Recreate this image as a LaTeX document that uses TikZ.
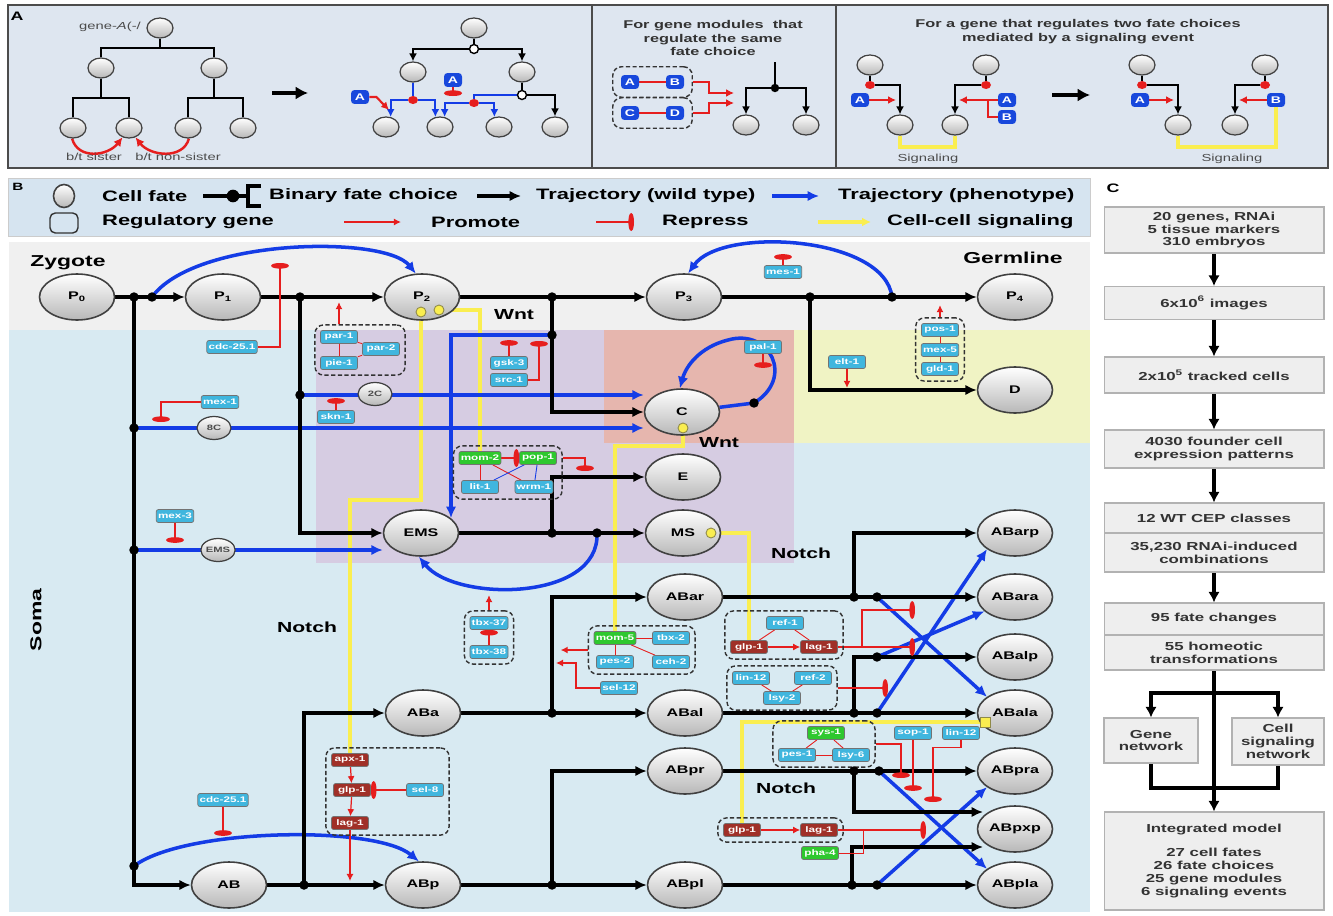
\documentclass[tikz,border=0pt]{standalone}
\usepackage{fontspec}
\setmainfont{Liberation Sans}[FakeStretch=1.45]
\usepackage{xcolor}
\usepackage{tikz}
\usetikzlibrary{arrows.meta, positioning, shapes.geometric, calc, backgrounds, fit}

\definecolor{panelbg}{RGB}{222,230,240}
\definecolor{legendbg}{RGB}{214,228,240}
\definecolor{germbg}{RGB}{240,240,240}
\definecolor{somabg}{RGB}{216,234,242}
\definecolor{purplebg}{RGB}{214,204,226}
\definecolor{salmonbg}{RGB}{230,182,174}
\definecolor{yellowbg}{RGB}{240,243,196}
\definecolor{genecyan}{RGB}{64,182,222}
\definecolor{genegreen}{RGB}{46,200,46}
\definecolor{genebrown}{RGB}{160,48,40}
\definecolor{geneblue}{RGB}{24,72,220}
\definecolor{trajblue}{RGB}{20,60,230}
\definecolor{sigyellow}{RGB}{250,238,80}
\definecolor{promred}{RGB}{230,30,30}
\definecolor{boxgray}{RGB}{238,238,238}

\pgfdeclarelayer{background}
\pgfdeclarelayer{wires}
\pgfsetlayers{background,wires,main}

\begin{document}
\begin{tikzpicture}[
    x=0.02cm, y=-0.02cm,
    every node/.style={font=\bfseries},
    % --- Styles ---
    cell/.style={ellipse, draw=black!75, line width=0.9pt, top color=white, bottom color=black!28,
        minimum width=1.5cm, minimum height=0.92cm, inner sep=0pt, font=\bfseries\fontsize{6.3}{7}\selectfont},
    minicell/.style={cell, minimum width=0.68cm, minimum height=0.46cm, line width=0.7pt,
        text=black!70, font=\bfseries\fontsize{4.4}{5}\selectfont},
    tinycell/.style={cell, minimum width=0.52cm, minimum height=0.4cm, line width=0.7pt},
    gene/.style={rectangle, rounded corners=1.2pt, draw=black!55, line width=0.4pt, fill=genecyan,
        text=white, minimum width=0.74cm, minimum height=0.26cm, inner sep=1pt,
        font=\bfseries\fontsize{4.6}{4.8}\selectfont},
    gene green/.style={gene, fill=genegreen},
    gene brown/.style={gene, fill=genebrown},
    letter gene/.style={rectangle, rounded corners=2pt, fill=geneblue, text=white, minimum width=0.36cm,
        minimum height=0.28cm, inner sep=0pt, font=\bfseries\fontsize{5.5}{6}\selectfont},
    module/.style={draw=black!80, dash pattern=on 2.4pt off 1.4pt, line width=0.8pt, rounded corners=5pt, inner sep=3pt},
    wt/.style={line width=2pt, -{Latex[length=6.5pt,width=6pt]}},
    wtline/.style={line width=2pt},
    phen/.style={trajblue, line width=2pt, -{Latex[length=6.5pt,width=6pt]}},
    phenline/.style={trajblue, line width=2pt},
    prom/.style={promred, line width=0.7pt, -{Latex[length=4pt,width=4pt]}},
    rep/.style={promred, line width=0.7pt, -{Ellipse[length=3.2pt,width=10pt]}},
    link/.style={promred, line width=0.5pt},
    linkblue/.style={trajblue, line width=0.5pt},
    signal/.style={sigyellow, line width=2pt},
    sigdot/.style={circle, fill=sigyellow, draw=black!50!yellow, line width=0.5pt, minimum size=0.2cm, inner sep=0pt},
    sigsquare/.style={rectangle, fill=sigyellow, draw=black!50!yellow, line width=0.5pt, minimum size=0.2cm, inner sep=0pt},
    tree/.style={line width=1.3pt},
    treearrow/.style={line width=1.3pt, -{Latex[length=4.5pt,width=4.5pt]}},
    bluetree/.style={trajblue, line width=1.3pt},
    bluetreearrow/.style={trajblue, line width=1.3pt, -{Latex[length=4.5pt,width=4.5pt]}},
    redarc/.style={promred, line width=1.4pt, -{Latex[length=5pt,width=5pt]}},
    redarrowA/.style={promred, line width=1.2pt, -{Latex[length=4.5pt,width=4.5pt]}},
    redlinkA/.style={promred, line width=1.2pt},
    signalA/.style={sigyellow, line width=2pt},
    reddot/.style={ellipse, fill=promred, minimum width=0.2cm, minimum height=0.16cm, inner sep=0pt},
    whitedot/.style={circle, fill=white, draw=black, line width=0.8pt, minimum size=0.18cm, inner sep=0pt},
    bigarrow/.style={line width=2.4pt, -{Latex[length=7pt,width=7.5pt]}},
    titleA/.style={align=center, text=black!80, font=\bfseries\fontsize{6.4}{7.6}\selectfont},
    note/.style={text=black!70, font=\fontsize{5.8}{6.5}\selectfont},
    legend text/.style={anchor=west, font=\bfseries\fontsize{8.6}{9}\selectfont},
    region label/.style={font=\bfseries\fontsize{9}{10}\selectfont},
    signal label/.style={font=\bfseries\fontsize{8.3}{9}\selectfont},
    panel label/.style={font=\bfseries\fontsize{7}{8}\selectfont},
    cbox/.style={draw=black!30, fill=boxgray, line width=0.6pt, align=center, text=black!80,
        minimum width=4.4cm, inner sep=1pt, font=\bfseries\fontsize{6.6}{7.3}\selectfont},
    cline/.style={line width=2.2pt},
    carrow/.style={line width=2.2pt, -{Latex[length=6pt,width=6.5pt]}}
]
\useasboundingbox (0,0) rectangle (1333,916);

    %% --- BACKGROUNDS ---
    \begin{pgfonlayer}{background}
        \draw[black!70, fill=panelbg, line width=0.8pt] (8,5) rectangle (1328,168);
        \draw[black!70, line width=0.8pt] (592,5) -- (592,168) (836,5) -- (836,168);
        \draw[black!20, fill=legendbg] (8,178) rectangle (1090,236);
        % Soma / germline regions
        \fill[somabg] (9,242) rectangle (1090,912);
        \fill[germbg] (9,242) rectangle (1090,330);
        \fill[purplebg] (316,330) rectangle (794,563);
        \fill[salmonbg] (604,330) rectangle (794,443);
        \fill[yellowbg] (794,330) rectangle (1090,443);
    \end{pgfonlayer}

    %% --- PANEL A ---
    \node[panel label] (labA) at (17,16) {A};

    % Wild type tree
    \node[note, anchor=east] (geneTxt) at (147,27) {gene-\textit{A}(-/};
    \node[tinycell] (t1r) at (160,28) {};
    \node[tinycell] (t1a) at (101,68) {};
    \node[tinycell] (t1b) at (214,68) {};
    \node[tinycell] (t1l1) at (73,128) {};
    \node[tinycell] (t1l2) at (129,128) {};
    \node[tinycell] (t1l3) at (188,128) {};
    \node[tinycell] (t1l4) at (243,128) {};
    \coordinate (t1j) at (160,48);
    \coordinate (t1ja) at (101,98);
    \coordinate (t1jb) at (214,98);
    \node[note] (bSister) at (94,157) {b/t sister};
    \node[note] (bNonSister) at (178,157) {b/t non-sister};
    \coordinate (arrA0) at (272,93);
    \coordinate (arrA1) at (308,93);

    % Mutant tree
    \node[tinycell] (t2r) at (474,28) {};
    \node[whitedot] (t2w1) at (474,49) {};
    \node[tinycell] (t2a) at (413,72) {};
    \node[tinycell] (t2b) at (522,72) {};
    \node[reddot] (t2rd1) at (413,100) {};
    \node[whitedot] (t2w2) at (522,95) {};
    \node[reddot] (t2rd2) at (474,103) {};
    \node[tinycell] (t2l1) at (386,127) {};
    \node[tinycell] (t2l2) at (440,127) {};
    \node[tinycell] (t2l3) at (499,127) {};
    \node[tinycell] (t2l4) at (555,127) {};
    \node[letter gene] (t2gA1) at (360,97) {A};
    \node[letter gene] (t2gA2) at (453,80) {A};

    % Modules on the same choice
    \node[titleA] (titleMid) at (713,38) {For gene modules~ that\\regulate the same\\fate choice};
    \node[letter gene] (mgA) at (630,82) {A};
    \node[letter gene] (mgB) at (675,82) {B};
    \node[letter gene] (mgC) at (630,113) {C};
    \node[letter gene] (mgD) at (675,113) {D};
    \node[module, inner sep=4.5pt] (mAB) [fit=(mgA)(mgB)] {};
    \node[module, inner sep=4.5pt] (mCD) [fit=(mgC)(mgD)] {};
    \coordinate (mTop) at (775,62);
    \coordinate (mDot) at (775,88);
    \node[tinycell] (ml1) at (746,125) {};
    \node[tinycell] (ml2) at (806,125) {};

    % Two fate choices and a signal
    \node[titleA] (titleRight) at (1078,31.5) {For a gene that regulates two fate choices\\mediated by a signaling event};
    \node[tinycell] (s1r) at (870,65) {};
    \node[reddot] (s1d) at (870,85) {};
    \node[tinycell] (s1l) at (900,125) {};
    \node[letter gene] (s1A) at (860,100) {A};
    \node[tinycell] (s2r) at (986,65) {};
    \node[reddot] (s2d) at (986,85) {};
    \node[tinycell] (s2l) at (955,125) {};
    \node[letter gene] (s2A) at (1007,100) {A};
    \node[letter gene] (s2B) at (1007,117) {B};
    \node[tinycell] (s3r) at (1142,65) {};
    \node[reddot] (s3d) at (1142,85) {};
    \node[tinycell] (s3l) at (1178,125) {};
    \node[letter gene] (s3A) at (1140,100) {A};
    \node[tinycell] (s4r) at (1265,65) {};
    \node[reddot] (s4d) at (1265,85) {};
    \node[tinycell] (s4l) at (1235,125) {};
    \node[letter gene] (s4B) at (1276,100) {B};
    \node[note] (sigTxt1) at (928,159) {Signaling};
    \node[note] (sigTxt2) at (1232,159) {Signaling};
    \coordinate (arrB0) at (1052,95);
    \coordinate (arrB1) at (1090,95);

    %% --- LEGEND ---
    \node[font=\bfseries\fontsize{6}{7}\selectfont] (labB) at (18,187) {B};
    \node[cell, minimum width=0.42cm, minimum height=0.46cm] (legCell) at (64,196) {};
    \node[legend text] (legCellTxt) at (96,196) {Cell fate};
    \coordinate (legBin0) at (203,196);
    \coordinate (legBinDot) at (233,196);
    \node[legend text] (legBinTxt) at (263,196) {Binary fate choice};
    \coordinate (legWt0) at (477,196);
    \coordinate (legWt1) at (521,196);
    \node[legend text] (legWtTxt) at (530,196) {Trajectory (wild type)};
    \coordinate (legPh0) at (772,196);
    \coordinate (legPh1) at (819,196);
    \node[legend text] (legPhTxt) at (832,196) {Trajectory (phenotype)};
    \node[draw=black!80, rounded corners=3pt, line width=0.8pt, minimum width=0.56cm, minimum height=0.4cm] (legGene) at (64,223) {};
    \node[legend text] (legGeneTxt) at (96,222) {Regulatory gene};
    \coordinate (legPr0) at (344,222);
    \coordinate (legPr1) at (401,222);
    \node[legend text] (legPrTxt) at (425,222) {Promote};
    \coordinate (legRe0) at (596,222);
    \coordinate (legRe1) at (634,222);
    \node[legend text] (legReTxt) at (656,222) {Repress};
    \coordinate (legSi0) at (818,222);
    \coordinate (legSi1) at (871,222);
    \node[legend text] (legSiTxt) at (881,222) {Cell-cell signaling};

    %% --- PANEL B: cells ---
    \node[region label] (zyg) at (68,263) {Zygote};
    \node[region label] (germ) at (1013,258) {Germline};
    \node[region label, rotate=90] (soma) at (36,620) {Soma};
    \node[signal label] (wnt1) at (514,315) {Wnt};
    \node[signal label] (wnt2) at (719,443) {Wnt};
    \node[signal label] (notch1) at (307,627) {Notch};
    \node[signal label] (notch2) at (801,553) {Notch};
    \node[signal label] (notch3) at (786,788) {Notch};

    \node[cell] (P0) at (77,297) {P\textsubscript{0}};
    \node[cell] (P1) at (223,297) {P\textsubscript{1}};
    \node[cell] (P2) at (422,297) {P\textsubscript{2}};
    \node[cell] (P3) at (684,297) {P\textsubscript{3}};
    \node[cell] (P4) at (1015,297) {P\textsubscript{4}};
    \node[cell] (D) at (1015,390) {D};
    \node[cell] (C) at (682,412) {C};
    \node[cell] (E) at (683,477) {E};
    \node[cell] (EMS) at (421,533) {EMS};
    \node[cell] (MS) at (683,533) {MS\hspace{10pt}};
    \node[cell] (ABar) at (685,597) {ABar};
    \node[cell] (ABal) at (685,713) {ABal};
    \node[cell] (ABa) at (423,713) {ABa};
    \node[cell] (ABpr) at (685,771) {ABpr};
    \node[cell] (ABpl) at (685,885) {ABpl};
    \node[cell] (AB) at (229,885) {AB};
    \node[cell] (ABp) at (423,885) {ABp};
    \node[cell] (ABarp) at (1015,533) {ABarp};
    \node[cell] (ABara) at (1015,597) {ABara};
    \node[cell] (ABalp) at (1015,657) {ABalp};
    \node[cell] (ABala) at (1015,713) {ABala};
    \node[cell] (ABpra) at (1015,771) {ABpra};
    \node[cell] (ABpxp) at (1015,829) {ABpxp};
    \node[cell] (ABpla) at (1015,885) {ABpla};
    \node[minicell] (c2C) at (375,394) {2C};
    \node[minicell] (c8C) at (214,428) {8C};
    \node[minicell] (cEMSs) at (218,550) {EMS};

    % Signal sources
    \node[sigdot] (sP2a) at (421,312) {};
    \node[sigdot] (sP2b) at (439,310) {};
    \node[sigdot] (sC) at (683,428) {};
    \node[sigdot] (sMS) at (711,533) {};
    \node[sigsquare] (sABala) at (985,722) {};

    % Junctions
    \coordinate (jP0a) at (134,297);  \coordinate (jP0b) at (152,297);
    \coordinate (jP1) at (300,297);   \coordinate (jP2) at (552,297);
    \coordinate (jP3a) at (810,297);  \coordinate (jP3b) at (892,297);
    \coordinate (j2C) at (300,395);   \coordinate (j8C) at (134,428);
    \coordinate (jEMSs) at (134,550); \coordinate (jAB) at (134,866);
    \coordinate (jP2b) at (552,335);  \coordinate (jEMS) at (552,533);
    \coordinate (jMS) at (597,533);   \coordinate (jC) at (754,403);
    \coordinate (jAB2) at (304,885);  \coordinate (jABa) at (552,713);
    \coordinate (jABp) at (552,885);
    \coordinate (jABar1) at (854,597);  \coordinate (jABar2) at (877,597);
    \coordinate (jABal1) at (854,713);  \coordinate (jABal2) at (877,713);
    \coordinate (jABalp) at (877,657);
    \coordinate (jABpr1) at (854,771);  \coordinate (jABpr2) at (879,771);
    \coordinate (jABpl1) at (852,885);  \coordinate (jABpl2) at (877,885);
    \coordinate (emsIn) at (451,518);
    \coordinate (xpIn1) at (983,812);
    \coordinate (xpIn2) at (983,847);

    % Regulatory genes
    \node[gene] (gCdcA) at (232,347) {cdc-25.1};
    \node[gene] (gPar1) at (339,337) {par-1};
    \node[gene] (gPar2) at (381,349) {par-2};
    \node[gene] (gPie1) at (339,363) {pie-1};
    \node[module] (modPar) [fit=(gPar1)(gPar2)(gPie1)] {};
    \node[gene] (gMex1) at (220,402) {mex-1};
    \node[gene] (gSkn1) at (336,417) {skn-1};
    \node[gene] (gMex3) at (175,516) {mex-3};
    \node[gene] (gGsk3) at (509,363) {gsk-3};
    \node[gene] (gSrc1) at (509,380) {src-1};
    \node[gene green] (gMom2) at (480,458) {mom-2};
    \node[gene green] (gPop1) at (538,458) {pop-1};
    \node[gene] (gLit1) at (480,487) {lit-1};
    \node[gene] (gWrm1) at (534,487) {wrm-1};
    \node[module] (modWnt) [fit=(gMom2)(gPop1)(gLit1)(gWrm1)] {};
    \node[gene] (gMes1) at (783,272) {mes-1};
    \node[gene] (gPal1) at (763,347) {pal-1};
    \node[gene] (gElt1) at (847,362) {elt-1};
    \node[gene] (gPos1) at (940,330) {pos-1};
    \node[gene] (gMex5) at (940,350) {mex-5};
    \node[gene] (gGld1) at (940,369) {gld-1};
    \node[module] (modGerm) [fit=(gPos1)(gMex5)(gGld1)] {};
    \node[gene] (gTbx37) at (489,623) {tbx-37};
    \node[gene] (gTbx38) at (489,652) {tbx-38};
    \node[module] (modTbx) [fit=(gTbx37)(gTbx38)] {};
    \node[gene green] (gMom5) at (615,638) {mom-5};
    \node[gene] (gTbx2) at (671,638) {tbx-2};
    \node[gene] (gPes2) at (615,662) {pes-2};
    \node[gene] (gCeh2) at (671,662) {ceh-2};
    \node[module] (modMom5) [fit=(gMom5)(gTbx2)(gPes2)(gCeh2)] {};
    \node[gene] (gSel12) at (619,688) {sel-12};
    \node[gene] (gRef1) at (785,623) {ref-1};
    \node[gene brown] (gGlp1a) at (749,647) {glp-1};
    \node[gene brown] (gLag1a) at (819,647) {lag-1};
    \node[module] (modNotchA) [fit=(gRef1)(gGlp1a)(gLag1a)] {};
    \node[gene] (gLin12) at (751,678) {lin-12};
    \node[gene] (gRef2) at (813,678) {ref-2};
    \node[gene] (gLsy2) at (782,698) {lsy-2};
    \node[module] (modLin) [fit=(gLin12)(gRef2)(gLsy2)] {};
    \node[gene green] (gSys1) at (826,733) {sys-1};
    \node[gene] (gPes1) at (797,755) {pes-1};
    \node[gene] (gLsy6) at (851,755) {lsy-6};
    \node[module] (modSys) [fit=(gSys1)(gPes1)(gLsy6)] {};
    \node[gene] (gSop1) at (913,733) {sop-1};
    \node[gene] (gLin12b) at (961,733) {lin-12};
    \node[gene brown] (gGlp1b) at (742,830) {glp-1};
    \node[gene brown] (gLag1b) at (819,830) {lag-1};
    \node[module] (modNotchB) [fit=(gGlp1b)(gLag1b)] {};
    \node[gene green] (gPha4) at (820,853) {pha-4};
    \node[gene brown] (gApx1) at (350,760) {apx-1};
    \node[gene brown] (gGlp1c) at (352,790) {glp-1};
    \node[gene brown] (gLag1c) at (350,823) {lag-1};
    \node[gene] (gSel8) at (425,790) {sel-8};
    \node[module] (modNotchC) [fit=(gApx1)(gGlp1c)(gLag1c)(gSel8)] {};
    \node[gene] (gCdcB) at (223,800) {cdc-25.1};

    %% --- PANEL C ---
    \node[panel label] (labC) at (1113,188) {C};
    \node[cbox, minimum height=0.92cm] (c1) at (1214,230) {20 genes, RNAi\\5 tissue markers\\310 embryos};
    \node[cbox, minimum height=0.66cm] (c2) at (1214,303) {6x10\textsuperscript{6} images};
    \node[cbox, minimum height=0.72cm] (c3) at (1214,375) {2x10\textsuperscript{5} tracked cells};
    \node[cbox, minimum height=0.76cm] (c4) at (1214,449) {4030 founder cell\\expression patterns};
    \node[cbox, minimum height=0.6cm] (c5a) at (1214,518) {12 WT CEP classes};
    \node[cbox, minimum height=0.78cm] (c5b) at (1214,552.5) {35,230 RNAi-induced\\combinations};
    \node[cbox, minimum height=0.64cm] (c6a) at (1214,619) {95 fate changes};
    \node[cbox, minimum height=0.7cm] (c6b) at (1214,652.5) {55 homeotic\\transformations};
    \node[cbox, minimum width=1.88cm, minimum height=0.9cm] (c7L) at (1151,740.5) {Gene\\network};
    \node[cbox, minimum width=1.84cm, minimum height=0.94cm] (c7R) at (1278,741.5) {Cell\\signaling\\network};
    \node[cbox, minimum height=1.96cm] (c8) at (1214,861) {Integrated model\\[6.5pt]27 cell fates\\26 fate choices\\25 gene modules\\6 signaling events};
    \coordinate (cSplit) at (1214,693);
    \coordinate (cJoin) at (1214,788);

    %% --- CONNECTORS ---
    \begin{pgfonlayer}{wires}
        % Panel A, wild type tree
        \draw[tree] (t1r) -- (t1j);
        \draw[tree] (t1a) |- (t1j) -| (t1b);
        \draw[tree] (t1a) -- (t1ja);
        \draw[tree] (t1l1) |- (t1ja) -| (t1l2);
        \draw[tree] (t1b) -- (t1jb);
        \draw[tree] (t1l3) |- (t1jb) -| (t1l4);
        \draw[redarc] (t1l1.-95) .. controls (78,160) and (108,156) .. (t1l2.-125);
        \draw[redarc] (t1l3.-85) .. controls (183,160) and (150,156) .. (t1l2.-55);
        \draw[bigarrow] (arrA0) -- (arrA1);

        % Panel A, mutant tree
        \draw[tree] (t2r) -- (t2w1);
        \draw[treearrow] (t2w1) -| (t2a.north);
        \draw[treearrow] (t2w1) -| (t2b.north);
        \draw[bluetree] (t2a) -- (t2rd1);
        \draw[bluetreearrow] (t2rd1) -| (t2l1.65);
        \draw[bluetreearrow] (t2rd1) -| (t2l2.115);
        \draw[tree] (t2b) -- (t2w2);
        \draw[treearrow] (t2w2) -| (t2l4.north);
        \draw[bluetree] (t2w2) -| (t2rd2);
        \draw[bluetreearrow] (t2rd2) -| (t2l2.65);
        \draw[bluetreearrow] (t2rd2) -| (t2l3.115);
        \draw[redarrowA] (t2gA1.east) -- ++(7,0) -- (389,110);
        \draw[rep, line width=1.1pt] (t2gA2.south) -- (453,96);

        % Panel A, modules
        \draw[redlinkA] (mgA) -- (mgB);
        \draw[redlinkA] (mgC) -- (mgD);
        \draw[redarrowA] (mAB.east) -- ++(16,0) |- (734,93);
        \draw[redarrowA] (mCD.east) -- ++(16,0) |- (734,103);
        \draw[tree] (mTop) -- (mDot);
        \draw[treearrow] (mDot) -| (ml1.north);
        \draw[treearrow] (mDot) -| (ml2.north);

        % Panel A, signaling
        \draw[tree] (s1r) -- (s1d);
        \draw[treearrow] (s1d) -| (s1l.north);
        \draw[redarrowA] (s1A.east) -- (896,100);
        \draw[tree] (s2r) -- (s2d);
        \draw[treearrow] (s2d) -| (s2l.north);
        \draw[redarrowA] (s2A.west) -- (959,100);
        \draw[redlinkA] (s2B.west) -| (988,100);
        \draw[signalA] (s1l.south) |- (928,147) -| (s2l.south);
        \draw[bigarrow] (arrB0) -- (arrB1);
        \draw[tree] (s3r) -- (s3d);
        \draw[treearrow] (s3d) -| (s3l.north);
        \draw[redarrowA] (s3A.east) -- (1174,100);
        \draw[tree] (s4r) -- (s4d);
        \draw[treearrow] (s4d) -| (s4l.north);
        \draw[redarrowA] (s4B.west) -- (1239,100);
        \draw[signalA] (s3l.south) |- (1230,147) -| (s4B.south);

        % Legend
        \draw[wtline] (legBin0) -- (248,196);
        \draw[line width=1.8pt] (261,186) -- (248,186) -- (248,206) -- (261,206);
        \draw[wt] (legWt0) -- (legWt1);
        \draw[phen] (legPh0) -- (legPh1);
        \draw[prom, line width=0.9pt] (legPr0) -- (legPr1);
        \draw[rep, line width=0.9pt] (legRe0) -- (legRe1);
        \draw[signal, -{Latex[length=5pt,width=5pt]}] (legSi0) -- (legSi1);

        % Signaling (yellow)
        \draw[signal] (sP2a) -- (421,500) -| (gApx1.north);
        \draw[signal] (sP2b) -| (gMom2.north);
        \draw[signal] (sC) -- ++(0,18) -| (gMom5.north);
        \draw[signal] (sMS) -| (gGlp1a.north);
        \draw[signal] (sABala) -| (gGlp1b.north);

        % Phenotype trajectories (blue)
        \draw[phen] (jP0b) .. controls (195,238) and (385,235) .. (P2.105);
        \draw[phen] (jP3b) .. controls (885,236) and (722,226) .. (P3.80);
        \draw[phen] (j2C) -- (j2C -| C.west);
        \draw[phen] (j8C) -- (j8C -| C.west);
        \draw[phen] (jEMSs) -- (jEMSs -| EMS.west);
        \draw[phen] (jP2b) -| (emsIn);
        \draw[phenline] (C) -- (jC);
        \draw[phen] (jC) .. controls (795,378) and (770,328) .. (728,340) .. controls (700,347) and (686,366) .. (C.95);
        \draw[phen] (jMS) .. controls (600,602) and (455,602) .. (EMS.-95);
        \draw[phen] (jAB) .. controls (185,828) and (375,825) .. (ABp.100);
        \draw[phen] (jABar2) -- (ABala.150);
        \draw[phen] (jABal2) -- (ABarp.210);
        \draw[phen] (jABalp) -- (ABara.205);
        \draw[phen] (jABpr2) -- (ABpla.150);
        \draw[phen] (jABpl2) -- (ABpra.210);

        % Wild type trajectories (black)
        \draw[wt] (P0) -- (P1);
        \draw[wt] (P1) -- (P2);
        \draw[wt] (P2) -- (P3);
        \draw[wt] (P3) -- (P4);
        \draw[wt] (jP0a) |- (AB);
        \draw[wt] (jP1) |- (EMS);
        \draw[wt] (jP2) |- (C);
        \draw[wt] (jP3a) |- (D);
        \draw[wtline] (EMS) -- (jEMS);
        \draw[wt] (jEMS) -- (MS);
        \draw[wt] (jEMS) |- (E);
        \draw[wtline] (AB) -- (jAB2);
        \draw[wt] (jAB2) -- (ABp);
        \draw[wt] (jAB2) |- (ABa);
        \draw[wtline] (ABa) -- (jABa);
        \draw[wt] (jABa) -- (ABal);
        \draw[wt] (jABa) |- (ABar);
        \draw[wtline] (ABp) -- (jABp);
        \draw[wt] (jABp) -- (ABpl);
        \draw[wt] (jABp) |- (ABpr);
        \draw[wt] (ABar) -- (ABara);
        \draw[wt] (jABar1) |- (ABarp);
        \draw[wt] (ABal) -- (ABala);
        \draw[wt] (jABal1) |- (ABalp);
        \draw[wt] (ABpr) -- (ABpra);
        \draw[wt] (jABpr1) |- (xpIn1);
        \draw[wt] (ABpl) -- (ABpla);
        \draw[wt] (jABpl1) |- (xpIn2);

        % Gene regulation (red)
        \draw[rep] (gCdcA.east) -| (280,263);
        \draw[link] (gPar1) -- (gPie1);
        \draw[link] (gPar1) -- (gPar2);
        \draw[link] (gPie1) -- (gPar2);
        \draw[prom] (modPar.north -| gPar1) -- ++(0,-22);
        \draw[rep] (gMex1.west) -| (161,422);
        \draw[rep] (gSkn1.north) -- ++(0,-12);
        \draw[rep] (gMex3.south) -- ++(0,20);
        \draw[rep] (gGsk3.north) -- ++(0,-16);
        \draw[rep] (gSrc1.east) -| (539,341);
        \draw[rep] (gMom2) -- (gPop1);
        \draw[link] (gMom2) -- (gLit1);
        \draw[link] (gMom2) -- (gWrm1);
        \draw[linkblue] (gPop1) -- (gLit1);
        \draw[linkblue] (gPop1) -- (gWrm1);
        \draw[rep] (modWnt.east |- gPop1) -| (585,471);
        \draw[rep] (gMes1.north) -- ++(0,-11);
        \draw[rep] (gPal1.south) -- ++(0,14);
        \draw[prom] (gElt1.south) -- ++(0,19);
        \draw[link] (gPos1) -- (gMex5) -- (gGld1);
        \draw[prom] (modGerm.north) -- ++(0,-12);
        \draw[rep] (gTbx38) -- (gTbx37);
        \draw[prom] (modTbx.north) -- ++(0,-15);
        \draw[link] (gMom5) -- (gTbx2);
        \draw[link] (gMom5) -- (gPes2);
        \draw[link] (gMom5) -- (gCeh2);
        \draw[prom] (modMom5.west) -- ++(-27,0);
        \draw[prom] (gSel12.west) -| (576,663) -- (556,663);
        \draw[prom] (gGlp1a) -- (gLag1a);
        \draw[link] (gGlp1a) -- (gRef1);
        \draw[link] (gLag1a) -- (gRef1);
        \draw[rep] (gLag1a.east) -- (915,647);
        \draw[rep] (862,647) |- (915,610);
        \draw[link] (gLin12) -- (gLsy2) -- (gRef2);
        \draw[rep] (modLin.east) -- (888,688);
        \draw[link] (gSys1) -- (gPes1);
        \draw[link] (gSys1) -- (gLsy6);
        \draw[link] (gPes1) -- (gLsy6);
        \draw[rep] (modSys.east) -| (901,778);
        \draw[rep] (gSop1.south) -- ++(0,51);
        \draw[rep] (gLin12b.south) -- ++(0,8) -| (933,802);
        \draw[prom] (gGlp1b) -- (gLag1b);
        \draw[rep] (gLag1b.east) -- (926,830);
        \draw[link] (863,830) |- (gPha4.east);
        \draw[prom] (gApx1) -- (gGlp1c);
        \draw[prom] (gGlp1c) -- (gLag1c);
        \draw[rep] (gSel8) -- (gGlp1c);
        \draw[prom] (gLag1c.south) -- (350,881);
        \draw[rep] (gCdcB.south) -- ++(0,29);

        % Panel C
        \draw[carrow] (c1) -- (c2);
        \draw[carrow] (c2) -- (c3);
        \draw[carrow] (c3) -- (c4);
        \draw[carrow] (c4) -- (c5a);
        \draw[carrow] (c5b) -- (c6a);
        \draw[carrow] (c6b) -- (c8);
        \draw[carrow] (cSplit) -| (c7L);
        \draw[carrow] (cSplit) -| (c7R);
        \draw[cline] (c7L) |- (cJoin) -| (c7R);
    \end{pgfonlayer}

    % Junction dots
    \foreach \j in {jP0a,jP0b,jP1,jP2,jP3a,jP3b,j2C,j8C,jEMSs,jAB,jP2b,jEMS,jMS,jC,jAB2,jABa,jABp,
                    jABar1,jABar2,jABal1,jABal2,jABalp,jABpr1,jABpr2,jABpl1,jABpl2}
        \fill (\j) circle[radius=2.7pt];
    \fill (mDot) circle[radius=2.4pt];
    \fill (legBinDot) circle[radius=3.6pt];

\end{tikzpicture}
\end{document}
